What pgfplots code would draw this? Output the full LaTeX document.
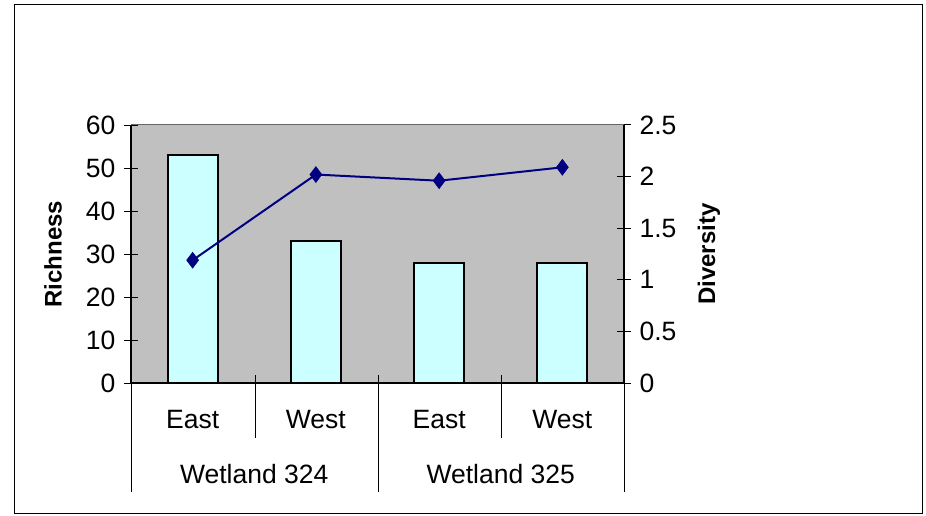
\documentclass[border=0pt]{standalone}
\usepackage{pgfplots}
\pgfplotsset{compat=1.18}
\usepackage{fontspec}
\setmainfont{Liberation Sans}
\definecolor{barfill}{HTML}{CCFFFF}
\definecolor{plotbg}{HTML}{C0C0C0}
\definecolor{navy}{HTML}{000080}
\begin{document}
\begin{tikzpicture}[x=1pt,y=1pt]
\path[use as bounding box] (0,0) rectangle (926,515);
\draw[line width=1pt] (14,2) rectangle (922,510);
\begin{axis}[
  at={(131pt,132pt)}, anchor=south west, scale only axis,
  width=493pt, height=258pt,
  xmin=0.5, xmax=4.5, ymin=0, ymax=60,
  ytick={0,10,...,60},
  axis background/.style={fill=plotbg},
  axis x line*=bottom, axis y line*=left,
  axis line style={line width=1.2pt, -},
  xtick={1,2,3,4}, xticklabels={East,West,East,West},
  x tick style={draw=none},
  y tick style={line width=1pt, black},
  major tick length=14pt, tick align=center,
  tick label style={font=\fontsize{26.5}{30}\selectfont},
  /pgf/number format/assume math mode=true,
  xticklabel style={anchor=base, yshift=-38pt},
  yticklabel style={xshift=-5pt},
  ylabel={\bfseries Richness},
  ylabel style={font=\fontsize{24}{28}\selectfont, at={(rel axis cs:0,0.5)}, anchor=center, yshift=78pt},
  clip=false,
]
\addplot[ybar, bar width=50pt, fill=barfill, draw=black, line width=2pt]
  coordinates {(1,53) (2,33) (3,28) (4,28)};
\node[anchor=base, font=\fontsize{26.5}{30}\selectfont] at (axis cs:1.5,0) [yshift=-100pt] {Wetland 324};
\node[anchor=base, font=\fontsize{26.5}{30}\selectfont] at (axis cs:3.5,0) [yshift=-100pt] {Wetland 325};
\end{axis}
\begin{axis}[
  at={(131pt,132pt)}, anchor=south west, scale only axis,
  width=493pt, height=258pt,
  xmin=0.5, xmax=4.5, ymin=0, ymax=2.5,
  ytick={0,0.5,...,2.5},
  axis y line*=right, axis x line=none,
  axis line style={line width=1.2pt, -},
  y tick style={line width=1pt, black},
  major tick length=14pt, tick align=center,
  tick label style={font=\fontsize{26.5}{30}\selectfont},
  yticklabel style={xshift=5pt},
  /pgf/number format/assume math mode=true,
  /pgf/number format/fixed,
  ylabel={\bfseries Diversity},
  ylabel style={font=\fontsize{24}{28}\selectfont, at={(rel axis cs:1,0.5)}, anchor=center, yshift=-85pt},
  clip=false,
]
\addplot[navy, line width=2pt, mark=diamond*, mark size=8pt, mark options={fill=navy, line width=0.5pt}]
  coordinates {(1,1.19) (2,2.02) (3,1.96) (4,2.09)};
\end{axis}
\draw[gray!80!black, line width=1pt] (131,390) -- (624,390);
\draw[line width=1pt] (131,140) -- (131,23);
\draw[line width=1pt] (378,140) -- (378,23);
\draw[line width=1pt] (624,140) -- (624,23);
\draw[line width=1pt] (255,140) -- (255,77);
\draw[line width=1pt] (501,140) -- (501,77);
\end{tikzpicture}
\end{document}
